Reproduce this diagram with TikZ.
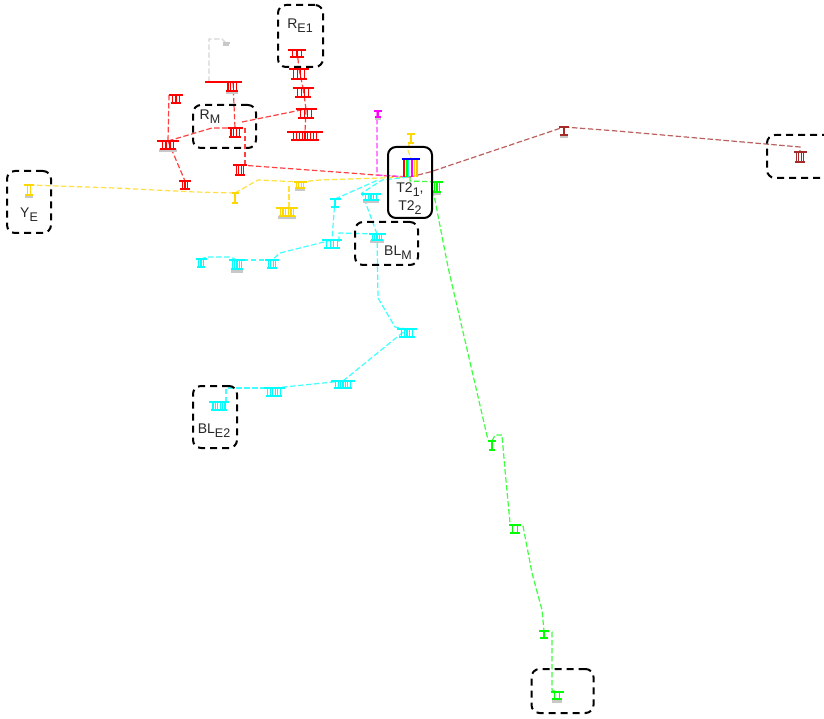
\documentclass[tikz,border=0pt]{standalone}
\usepackage{fontspec}
\setmainfont{Liberation Sans}
\definecolor{cR}{HTML}{FF0000}
\definecolor{cY}{HTML}{FFD700}
\definecolor{cC}{HTML}{00FFFF}
\definecolor{cG}{HTML}{00FF00}
\definecolor{cB}{HTML}{A52A2A}
\definecolor{cM}{HTML}{FF00FF}
\definecolor{cGy}{HTML}{C8C8C8}
\tikzset{
  wire/.style={draw=#1!75!white,line width=1.2pt,dash pattern=on 5.5pt off 2.5pt},
  dbox/.style={draw=black,line width=2pt,dash pattern=on 7pt off 5pt,rounded corners=8pt,inner sep=0pt},
  sbox/.style={draw=black,line width=2pt,rounded corners=8pt,inner sep=0pt},
  lab/.style={font=\fontsize{14}{15}\selectfont,inner sep=0pt,text=black!85},
}
\newcommand{\lowsub}[1]{\raisebox{-0.3em}{\fontsize{12.5}{12}\selectfont #1}}
\newcommand{\glyph}[6]{% name, width, height, legs, colour, gray band
  \begin{scope}[shift={(#1)}]
    \ifnum#6=1 \fill[cGy] (-0.4*#2,#3+0.5) rectangle (0.4*#2,#3+3.5);\fi
    \foreach \i in {1,...,#4}{
      \pgfmathsetmacro{\lx}{-0.36*#2+0.72*#2*(\i-0.5)/#4}
      \draw[#5,line width=1.1pt] (\lx,0) -- (\lx,#3);
    }
    \draw[#5,line width=2.8pt] (-0.5*#2,0) -- (0.5*#2,0);
    \draw[#5,line width=2.2pt] (-0.38*#2,#3) -- (0.38*#2,#3);
  \end{scope}}
\begin{document}
\begin{tikzpicture}[x=1pt,y=-1pt]
\useasboundingbox (0,0) rectangle (824,719);
\fill[white] (0,0) rectangle (824,719);
% positions
\foreach \n/\x/\y in {
 Ra/297/50,Rb/299/69,Rc/303/88,Rd/306/109,Re/305/132,Rf/226/43,Rg/233/82,Rh/176/95,Ri/168/141,Rj/235/128,Rk/240/165,Rl/185/181,
 Ya/29/185,Yb/235/193,Yc/300/182,Yd/287/208,Ye/411/134,
 Ma/378/111,
 Ga/437/182,Gb/492/441,Gc/515/525,Gd/544/631,Ge/557/692,
 Ba/564/127,Bb/800/152,
 Ca/335/199,Cb/371/194,Cc/377/234,Cd/332/240,Ce/272/260,Cf/237/260,Cg/201/259,Ch/407/329,Ci/343/381,Cj/274/388,Ck/219/402,
 Tt/411/159,Tb/410/177}
  {\coordinate (\n) at (\x,\y);}
% connectors
\draw[wire=cR] (Ra) -- (Rb);
\draw[wire=cR] (Rb) -- (Rc);
\draw[wire=cR] (Rc) -- (Rd);
\draw[wire=cR] (Rd) -- (Re);
\draw[wire=cGy] (Rg) ++(-24,0) -- (209,39) -- (222,39) -- (Rf);
\draw[wire=cR] (Rg) -- (Rj);
\draw[wire=cR] (Rh) ++(-7,0) -- (Ri);
\draw[wire=cR] (Ri) -- (212,128) -- (Rj);
\draw[wire=cR] (Rj) ++(7,-6) -- (Rd);
\draw[wire=cR] (Rj) ++(10,0) -- (245,165) -- (Rk);
\draw[wire=cR] (Rk) -- (350,173) -- (388,176) -- (Tb);
\draw[wire=cR] (Ri) -- (Rl);
\draw[wire=cY] (Ya) -- (115,188) -- (195,192) -- (Yb);
\draw[wire=cY] (Yb) -- (258,180) -- (Yc);
\draw[wire=cY] (Yc) -- (320,180) -- (380,178) -- (Tb);
\draw[wire=cY] (Yd) ++(2,0) -- (289,184);
\draw[wire=cY] (Ye) -- (408,150) -- (Tt);
\draw[wire=cM] (Ma) ++(-1,0) -- (377,175) -- (Tb);
\draw[wire=cG] (Tb) -- (410,181) -- (Ga);
\draw[wire=cG] (433,190) -- (448,267) -- (488,440);
\draw[wire=cG] (Gb) -- (495,435) -- (502,435) -- (505,470) -- (510,523);
\draw[wire=cG] (Gc) -- (523,526) -- (532,573) -- (542,610) -- (Gd);
\draw[wire=cG] (Gd) -- (552,632) -- (552,690) -- (Ge);
\draw[wire=cB] (Tb) -- (430,172) -- (Ba);
\draw[wire=cB] (Ba) -- (617,131) -- (697,138) -- (800,147) -- (Bb);
\draw[wire=cC] (Ck) ++(7,0) -- (226,388) -- (Cj);
\draw[wire=cC] (Cj) -- (Ci);
\draw[wire=cC] (Ci) -- (Ch);
\draw[wire=cC] (Ch) -- (395,327) -- (378,298) -- (Cc);
\draw[wire=cC] (Cc) -- (362,193) -- (382,180) -- (Tb);
\draw[wire=cC] (Ca) -- (378,180);
\draw[wire=cC] (Ca) -- (Cd);
\draw[wire=cC] (Cd) ++(7,2) -- (339,233) -- (Cc);
\draw[wire=cC] (Cd) -- (280,253) -- (Ce);
\draw[wire=cC] (Ce) -- (Cf);
\draw[wire=cC] (Cf) -- (230,257) -- (207,257) -- (Cg);
% devices
\glyph{Ra}{18}{7}{3}{cR}{0}
\glyph{Rb}{20}{10}{4}{cR}{0}
\glyph{Rc}{21}{9}{4}{cR}{0}
\glyph{Rd}{21}{9}{4}{cR}{0}
\glyph{Re}{36}{8}{9}{cR}{0}
\glyph{Rf}{7}{2}{1}{cGy}{0}
\draw[cR,line width=2.8pt] (205,82) -- (242,82);
\begin{scope}[shift={(232,82)}]\glyph{0,0}{15}{9}{4}{cR}{1}\end{scope}
\glyph{Rh}{14}{8}{3}{cR}{0}
\glyph{Ri}{22}{8}{4}{cR}{1}
\glyph{Rj}{15}{9}{4}{cR}{0}
\glyph{Rk}{14}{10}{4}{cR}{0}
\glyph{Rl}{12}{8}{3}{cR}{0}
\glyph{Ya}{10}{10}{2}{cY}{1}
\glyph{Yb}{7}{10}{1}{cY}{0}
\glyph{Yc}{13}{6}{4}{cY}{1}
\glyph{Yd}{22}{8}{6}{cY}{1}
\glyph{Ye}{8}{9}{1}{cY}{0}
\glyph{Ma}{8}{6}{1}{cM}{1}
\glyph{Ga}{11}{10}{3}{cG}{1}
\glyph{Gb}{8}{9}{1}{cG}{0}
\glyph{Gc}{12}{8}{2}{cG}{0}
\glyph{Gd}{10}{7}{1}{cG}{0}
\glyph{Ge}{13}{7}{2}{cG}{1}
\glyph{Ba}{10}{8}{1}{cB}{1}
\glyph{Bb}{13}{10}{4}{cB}{0}
\glyph{Ca}{11}{8}{1}{cC}{0}
\glyph{Cb}{20}{6}{5}{cC}{1}
\glyph{Cc}{17}{6}{5}{cC}{1}
\glyph{Cd}{20}{8}{4}{cC}{0}
\glyph{Ce}{14}{8}{4}{cC}{0}
\glyph{Cf}{16}{9}{5}{cC}{1}
\glyph{Cg}{11}{8}{3}{cC}{0}
\glyph{Ch}{20}{8}{5}{cC}{0}
\glyph{Ci}{24}{7}{7}{cC}{0}
\glyph{Cj}{21}{8}{6}{cC}{0}
\glyph{Ck}{20}{8}{6}{cC}{0}
% T2 bus
\foreach \c/\dx in {cR/-7,cG/-4,cC/-2.5,cM/1,cY/3.5,cY!70!orange/6}
  {\draw[\c,line width=1.3pt] ([xshift=\dx pt]Tt) -- ++(0,18);}
\draw[blue,line width=2.8pt] (402,159) -- (420,159);
% frames
\node[dbox,minimum width=45pt,minimum height=62pt] (boxRE) at (300.5,36) {};
\node[dbox,minimum width=63pt,minimum height=43pt] (boxRM) at (224.5,126.5) {};
\node[dbox,minimum width=63pt,minimum height=43pt] (boxBM) at (386.5,243.5) {};
\node[dbox,minimum width=44pt,minimum height=62pt] (boxBE) at (215,417) {};
\node[dbox,minimum width=44pt,minimum height=62pt] (boxYE) at (29,202) {};
\node[dbox,minimum width=62pt,minimum height=44pt] (boxGE) at (562.5,691) {};
\node[dbox,minimum width=70pt,minimum height=43pt,anchor=west] (boxBB) at (766,156.5) {};
\node[sbox,minimum width=44pt,minimum height=71pt] (boxT) at (410,182.5) {};
% labels
\node[lab] (lRE) at (300,26) {R\lowsub{E1}};
\node[lab] (lRM) at (210,117) {R\lowsub{M}};
\node[lab] (lBM) at (398,253) {BL\lowsub{M}};
\node[lab] (lBE) at (214,431) {BL\lowsub{E2}};
\node[lab] (lYE) at (29,215) {Y\lowsub{E}};
\node[lab] (lT1) at (410,190) {T2\lowsub{1},};
\node[lab] (lT2) at (410,208) {T2\lowsub{2}};
\end{tikzpicture}
\end{document}
